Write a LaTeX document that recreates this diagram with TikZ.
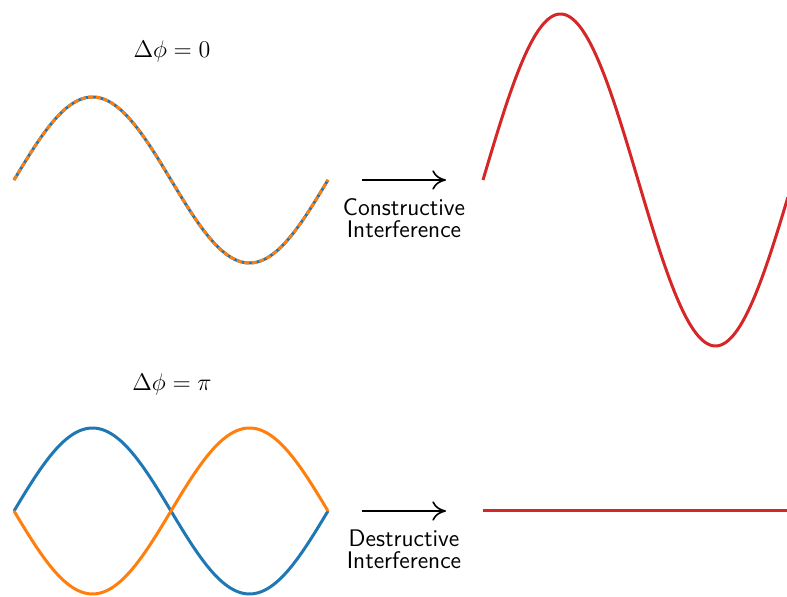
\documentclass[tikz,border=0pt]{standalone}
\usepackage{amsmath,amssymb}
\usepackage{tikz}
\usetikzlibrary{arrows.meta,positioning}
\definecolor{wblue}{HTML}{1F77B4}
\definecolor{worange}{HTML}{FF7F0E}
\definecolor{wred}{HTML}{D62728}

\begin{document}
\begin{tikzpicture}[
  x=0.5pt,y=-0.5pt,
  wave/.style={line width=1.5pt,line join=round},
  label/.style={font=\large\sffamily,align=center,inner sep=1pt},
  phase/.style={font=\large},
  arrow/.style={-{To[length=2.4mm,width=3.4mm]},line width=0.8pt}
]
\useasboundingbox (0,0) rectangle (787,597);
% top row: equal phase
\node[phase] (phizero) at (172,52) {$\Delta\phi = 0$};
\draw[wave,wblue] plot[domain=0:360,samples=120] ({14+\x/360*314},{180-83*sin(\x)});
\draw[wave,worange,dash pattern=on 2.5pt off 1.3pt] plot[domain=0:360,samples=120] ({14+\x/360*314},{180-83*sin(\x)});
\coordinate (cstart) at (362,180);
\coordinate (cend) at (446,180);
\draw[arrow] (cstart) -- (cend);
\node[label,anchor=north] (constr) at (404,196) {Constructive\\[-2.8pt]Interference};
\begin{scope}
\clip (470,0) rectangle (787,597);
\draw[wave,wred] plot[domain=0:354,samples=140] ({483+\x/360*310},{180-166*sin(\x)});
\end{scope}
% bottom row: opposite phase
\node[phase] (phipi) at (172,385) {$\Delta\phi = \pi$};
\draw[wave,wblue] plot[domain=0:360,samples=120] ({14+\x/360*314},{511-83*sin(\x)});
\draw[wave,worange] plot[domain=0:360,samples=120] ({14+\x/360*314},{511+83*sin(\x)});
\coordinate (dstart) at (362,511);
\coordinate (dend) at (446,511);
\draw[arrow] (dstart) -- (dend);
\node[label,anchor=north] (destr) at (404,527) {Destructive\\[-2.8pt]Interference};
\coordinate (flatl) at (483,511);
\coordinate (flatr) at (787,511);
\draw[wave,wred] (flatl) -- (flatr);
\end{tikzpicture}
\end{document}
